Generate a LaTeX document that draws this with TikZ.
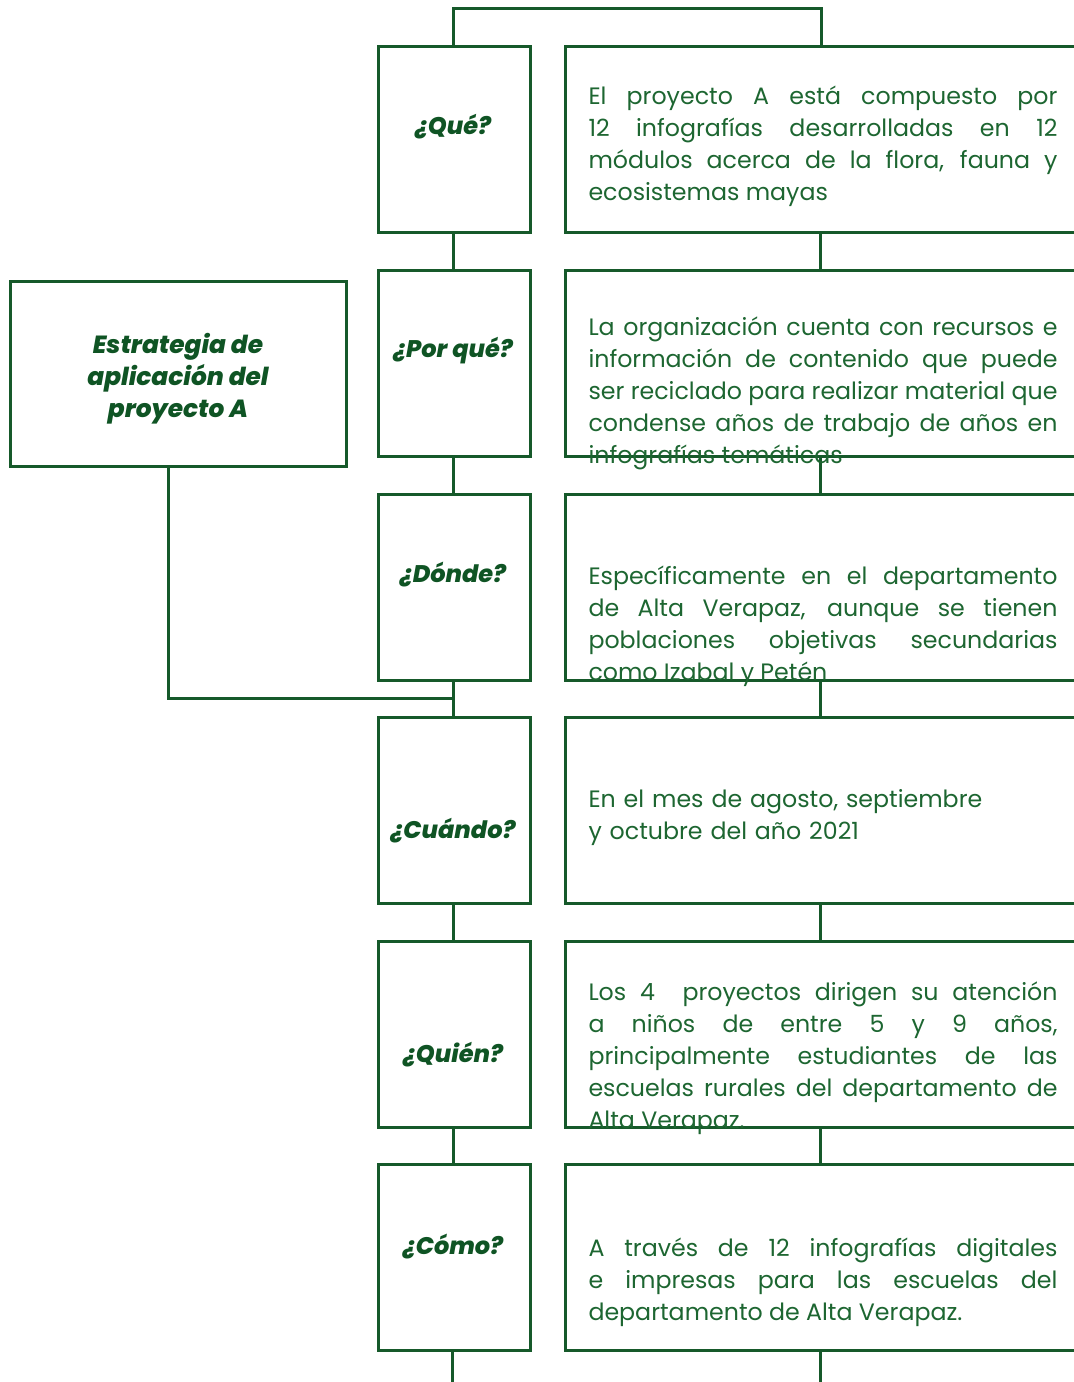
\documentclass[tikz,border=0pt]{standalone}
\usepackage{fontspec}
\setmainfont{Poppins}[Numbers=OldStyle]
\def\bodysize{11.85}
\IfFontExistsTF{Poppins ExtraBold Italic}
  {\newfontfamily\labelfont{Poppins ExtraBold Italic}\def\labelshape{}}
  {\newfontfamily\labelfont{Poppins}\def\labelshape{\bfseries\itshape}}
\definecolor{linegreen}{HTML}{16592A}
\definecolor{textgreen}{HTML}{1D6631}
\definecolor{labelgreen}{HTML}{0F5424}

\begin{document}
\begin{tikzpicture}[
  x=0.5pt, y=-0.5pt,
  line width=1.5pt, draw=linegreen,
  qbox/.style={draw=linegreen, line width=1.5pt, minimum width=76pt, minimum height=93pt, inner sep=0pt},
  abox/.style={draw=linegreen, line width=1.5pt, minimum width=260pt, minimum height=93pt, inner sep=0pt},
  qlabel/.style={font=\labelfont\labelshape\fontsize{12}{16}\selectfont, text=labelgreen, inner sep=0pt},
  body/.style={anchor=north west, inner sep=0pt, text width=234.5pt, align=justify,
    font=\fontsize{\bodysize}{16}\selectfont, text=textgreen},
  link/.style={draw=linegreen, line width=1.5pt}
]
\useasboundingbox (0,0) rectangle (1073,1382);

% question boxes (left column) and answer boxes (right column)
\node[qbox] (q1) at (454,139) {};
\node[qbox] (q2) at (454,363) {};
\node[qbox] (q3) at (454,587) {};
\node[qbox] (q4) at (454,810) {};
\node[qbox] (q5) at (454,1034) {};
\node[qbox] (q6) at (454,1257) {};

\node[abox] (a1) at (825,139) {};
\node[abox] (a2) at (825,363) {};
\node[abox] (a3) at (825,587) {};
\node[abox] (a4) at (825,810) {};
\node[abox] (a5) at (825,1034) {};
\node[abox] (a6) at (825,1257) {};

% strategy box
\node[draw=linegreen, line width=1.5pt, minimum width=168pt, minimum height=92.5pt, inner sep=0pt]
  (s) at (178,373.5) {};
\node[qlabel, align=center, font=\labelfont\labelshape\fontsize{12.4}{16}\selectfont] (st) at (178,379)
  {Estrategia de\\aplicación del\\proyecto A};

% question labels
\node[qlabel] (l1) at (453,127) {¿Qué?};
\node[qlabel] (l2) at (453,351) {¿Por qué?};
\node[qlabel] (l3) at (453,575) {¿Dónde?};
\node[qlabel] (l4) at (453,831) {¿Cuándo?};
\node[qlabel] (l5) at (453,1055) {¿Quién?};
\node[qlabel] (l6) at (453,1247) {¿Cómo?};

% connector helpers
\coordinate (qx) at (453,0);
\coordinate (ax) at (820,0);
\coordinate (topl) at (453,8);
\coordinate (topr) at (821,8);
\coordinate (botl) at (452,1382);
\coordinate (botr) at (820,1382);
\coordinate (bend) at (168,698);
\coordinate (join) at (453,698);

% top bracket joining the two columns
\draw[link] (q1.north -| topl) -- (topl) -- (topr) -- (a1.north -| topr);

% vertical links between consecutive boxes
\foreach \i/\j in {1/2,2/3,3/4,4/5,5/6}{
  \draw[link] (q\i.south -| qx) -- (q\j.north -| qx);
  \draw[link] (a\i.south -| ax) -- (a\j.north -| ax);
}
\draw[link] (q6.south -| botl) -- (botl);
\draw[link] (a6.south -| botr) -- (botr);

% strategy box tied into the left column
\draw[link] (s.south -| bend) -- (bend) -- (join);

% answer texts
\node[body] (t1) at (587,80.6) {\strut El proyecto A está compuesto por\linebreak
12 infografías desarrolladas en 12\linebreak
módulos acerca de la flora, fauna y\linebreak
ecosistemas mayas};
\node[body] (t2) at (587,311.6) {\strut La organización cuenta con recursos e\linebreak
información de contenido que puede\linebreak
ser reciclado para realizar material que\linebreak
condense años de trabajo de años en\linebreak
infografías temáticas};
\node[body] (t3) at (587,560.6) {\strut Específicamente en el departamento\linebreak
de Alta Verapaz, aunque se tienen\linebreak
poblaciones objetivas secundarias\linebreak
como Izabal y Petén};
\node[body, align=left] (t4) at (587,783.6) {\strut En el mes de agosto, septiembre\\
y octubre del año 2021};
\node[body] (t5) at (587,976.6) {\strut Los 4 \ proyectos dirigen su atención\linebreak
a niños de entre 5 y 9 años,\linebreak
principalmente estudiantes de las\linebreak
escuelas rurales del departamento de\linebreak
Alta Verapaz.};
\node[body] (t6) at (587,1232.6) {\strut A través de 12 infografías digitales\linebreak
e impresas para las escuelas del\linebreak
departamento de Alta Verapaz.};
\end{tikzpicture}
\end{document}
